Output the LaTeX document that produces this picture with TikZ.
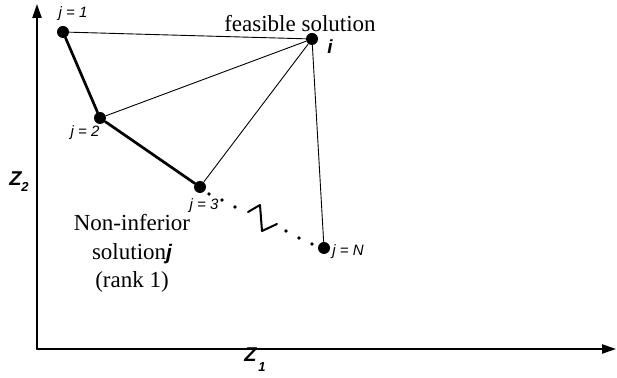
\documentclass[tikz,border=0pt]{standalone}
\usepackage{fontspec}
\setmainfont{Liberation Serif}
\setsansfont{Liberation Sans}
\usetikzlibrary{arrows.meta}

\begin{document}
\begin{tikzpicture}[x=0.5pt, y=-0.5pt, line cap=round, line join=round,
  soln/.style={circle, fill=black, inner sep=0pt, minimum size=6pt},
  gapdot/.style={circle, fill=black, inner sep=0pt, minimum size=1.8pt},
  jlabel/.style={font=\sffamily\itshape\fontsize{7.5}{8}\selectfont, inner sep=0pt},
  axlabel/.style={font=\sffamily\bfseries\itshape\fontsize{10}{10}\selectfont, inner sep=0pt},
  note/.style={font=\fontsize{11.5}{14.3}\selectfont, inner sep=0pt, align=center},
  axis/.style={line width=0.85pt, -{Triangle[length=7pt,width=4.6pt]}},
  link/.style={line width=0.45pt},
  front/.style={line width=1.35pt}]
% Page frame
\useasboundingbox (0,0) rectangle (617,378);
% Axes
\coordinate (O) at (37,349);
\coordinate (ytop) at (37,4);
\coordinate (xend) at (616,349);
\draw[axis] (O) -- (ytop);
\draw[axis] (O) -- (xend);
\node[axlabel] (z1) at (255,360) {Z\kern1pt\raisebox{-5pt}{\fontsize{6.5}{6.5}\selectfont 1}};
\node[axlabel] (z2) at (19,182) {Z\raisebox{-3pt}{\fontsize{6.5}{6.5}\selectfont 2}};
% Solutions
\node[soln] (j1) at (63,32) {};
\node[soln] (j2) at (100,118) {};
\node[soln] (j3) at (200,187) {};
\node[soln] (jN) at (324,248) {};
\node[soln] (i) at (312,39) {};
% Links from the feasible solution
\draw[link] (i) -- (j1);
\draw[link] (i) -- (j2);
\draw[link] (i) -- (j3);
\draw[link] (i) -- (jN);
% Non-inferior front
\draw[front] (j1) -- (j2) -- (j3);
% Broken dotted part of the front
\foreach \px/\py [count=\k] in {209/194, 222/200, 235/207, 286/231, 299/238, 312/244}
  \node[gapdot] (g\k) at (\px,\py) {};
\coordinate (zz1) at (248,212);
\coordinate (zz2) at (260,205);
\coordinate (zz3) at (262,231);
\coordinate (zz4) at (277,224);
\draw[line width=1pt] (zz1) -- (zz2) -- (zz3) -- (zz4);
% Labels
\node[jlabel] (l1) at (73,14) {j = 1};
\node[jlabel] (l2) at (85,133) {j = 2};
\node[jlabel] (l3) at (204,206) {j = 3};
\node[jlabel] (lN) at (348,252) {j = N};
\node[axlabel, font=\sffamily\bfseries\itshape\fontsize{9.5}{9.5}\selectfont] (li) at (330,47) {i};
\node[note, anchor=base] (feas) at (300,32) {feasible solution};
\node[note, anchor=north] (rank) at (132,214) {Non-inferior\\solution{\sffamily\bfseries\itshape\fontsize{10.5}{10.5}\selectfont j}\\(rank 1)};
\end{tikzpicture}
\end{document}
